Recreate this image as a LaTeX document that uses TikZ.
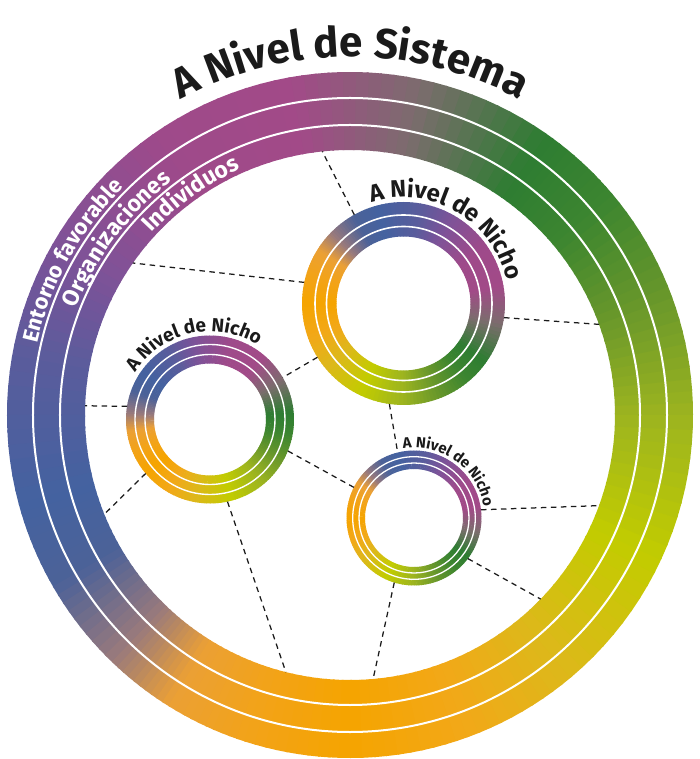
\documentclass[tikz,border=0pt]{standalone}
\usepackage{fontspec}
\setmainfont{Fira Sans}
\usetikzlibrary{decorations.text}

\definecolor{c0}{HTML}{F5A400}
\definecolor{c1}{HTML}{F2A818}
\definecolor{c2}{HTML}{DDB81A}
\definecolor{c3}{HTML}{C2CC00}
\definecolor{c4}{HTML}{9CB420}
\definecolor{c5}{HTML}{6A982A}
\definecolor{c6}{HTML}{3C8530}
\definecolor{c7}{HTML}{2E7D32}
\definecolor{c8}{HTML}{7C6C6E}
\definecolor{c9}{HTML}{A24A88}
\definecolor{c10}{HTML}{9E4A8A}
\definecolor{c11}{HTML}{7E5298}
\definecolor{c12}{HTML}{5A5C9C}
\definecolor{c13}{HTML}{4462A0}
\definecolor{c14}{HTML}{4C6298}
\definecolor{c15}{HTML}{9A7A7C}
\definecolor{c16}{HTML}{EBA035}
\definecolor{c17}{HTML}{F2A31A}
\definecolor{c18}{HTML}{F5A400}
\definecolor{ink}{HTML}{1A1A1A}

\def\stoplist{-90/-70/c0/c1, -70/-50/c1/c2, -50/-25/c2/c3, -25/0/c3/c4, 0/20/c4/c5, 20/40/c5/c6, 40/55/c6/c7, 55/78/c7/c8, 78/100/c8/c9, 100/125/c9/c10, 125/150/c10/c11, 150/170/c11/c12, 170/195/c12/c13, 195/210/c13/c14, 210/226/c14/c15, 226/238/c15/c16, 238/252/c16/c17, 252/270/c17/c18}

% #1 x, #2 y, #3 inner radius, #4 outer radius, #5 rotation
\newcommand\gradring[5]{%
  \begin{scope}[shift={(#1,#2)}]
  \foreach \sa/\sb/\ca/\cb in \stoplist {
    \foreach \k in {0,...,9} {
      \pgfmathsetmacro\angA{(\sa)+((\sb)-(\sa))*\k/10+(#5)}
      \pgfmathsetmacro\angB{(\sa)+((\sb)-(\sa))*(\k+1)/10+(#5)+0.4}
      \pgfmathtruncatemacro\mixp{\k*10+5}
      \colorlet{segc}{\cb!\mixp!\ca}
      \fill[segc] (\angA:#3pt) arc[start angle=\angA, end angle=\angB, radius=#3pt]
        -- (\angB:#4pt) arc[start angle=\angB, end angle=\angA, radius=#4pt] -- cycle;
    }
  }
  \end{scope}}

\tikzset{
  dashline/.style={ink, line width=1.25pt, dash pattern=on 5.5pt off 4.5pt},
  sep/.style={white, line width=#1},
  ringnode/.style={circle, inner sep=0pt, outer sep=0pt, minimum size=#1},
}

\begin{document}
\begin{tikzpicture}[x=1pt, y=1pt]
\useasboundingbox (-350,-344) rectangle (350,415);

% big ring
\gradring{0}{0}{265}{343}{0}
\draw[sep=2pt] (0,0) circle[radius=290pt];
\draw[sep=2pt] (0,0) circle[radius=317pt];
\node[ringnode=530pt] (inner) at (0,0) {};

% niche rings
\gradring{53.5}{111.5}{67}{101.5}{-90}
\draw[sep=1.6pt] (53.5,111.5) circle[radius=77pt];
\draw[sep=1.6pt] (53.5,111.5) circle[radius=88.5pt];
\node[ringnode=203pt] (ringA) at (53.5,111.5) {};

\gradring{-140}{-4.5}{56}{84}{-50}
\draw[sep=1.4pt] (-140,-4.5) circle[radius=65pt];
\draw[sep=1.4pt] (-140,-4.5) circle[radius=75pt];
\node[ringnode=168pt] (ringB) at (-140,-4.5) {};

\gradring{64}{-103}{49}{67.5}{-90}
\draw[sep=1.3pt] (64,-103) circle[radius=55pt];
\draw[sep=1.3pt] (64,-103) circle[radius=61.3pt];
\node[ringnode=135pt] (ringC) at (64,-103) {};

% dashed connectors
\draw[dashline] (ringA.119) -- (inner.96);
\draw[dashline] (ringA.168) -- (inner.145);
\draw[dashline] (ringA.352) -- (inner.20);
\draw[dashline] (ringA.212) -- (ringB.30);
\draw[dashline] (ringA.262) -- (ringC.104);
\draw[dashline] (ringB.171) -- (inner.178);
\draw[dashline] (ringB.220) -- (inner.202);
\draw[dashline] (ringB.338) -- (ringC.153);
\draw[dashline] (ringB.282) -- (inner.256);
\draw[dashline] (ringC.7) -- (inner.340);
\draw[dashline] (ringC.323) -- (inner.316);
\draw[dashline] (ringC.253) -- (inner.275);

% title
\path[decorate, decoration={text along path, text align=center, text color=ink,
  text={|\bfseries\fontsize{42}{42}\selectfont|A Nivel de Sistema}}]
  (150:358pt) arc[start angle=150, end angle=30, radius=358pt];

% band labels
\path[decorate, decoration={text along path, text align=center, text color=white,
  text={|\bfseries\fontsize{22}{22}\selectfont|Entorno favorable}}]
  (200.9:321pt) arc[start angle=200.9, end angle=100.9, radius=321pt];
\path[decorate, decoration={text along path, text align=center, text color=white,
  text={|\bfseries\fontsize{23}{23}\selectfont|Organizaciones}}]
  (193:294pt) arc[start angle=193, end angle=93, radius=294pt];
\path[decorate, decoration={text along path, text align=center, text color=white,
  text={|\bfseries\fontsize{23}{23}\selectfont|Individuos}}]
  (175.7:269pt) arc[start angle=175.7, end angle=75.7, radius=269pt];

% niche labels
\begin{scope}[shift={(53.5,111.5)}]
\path[decorate, decoration={text along path, text align=center, text color=ink,
  text={|\bfseries\fontsize{24}{24}\selectfont|A Nivel de Nicho}}]
  (160:106pt) arc[start angle=160, end angle=-40, radius=106pt];
\end{scope}
\begin{scope}[shift={(-140,-4.5)}]
\path[decorate, decoration={text along path, text align=center, text color=ink,
  text={|\bfseries\fontsize{19}{19}\selectfont|A Nivel de Nicho}}]
  (200:88pt) arc[start angle=200, end angle=5.4, radius=88pt];
\end{scope}
\begin{scope}[shift={(64,-103)}]
\path[decorate, decoration={text along path, text align=center, text color=ink,
  text={|\bfseries\fontsize{15}{15}\selectfont|A Nivel de Nicho}}]
  (150:70.5pt) arc[start angle=150, end angle=-42, radius=70.5pt];
\end{scope}
\end{tikzpicture}
\end{document}
